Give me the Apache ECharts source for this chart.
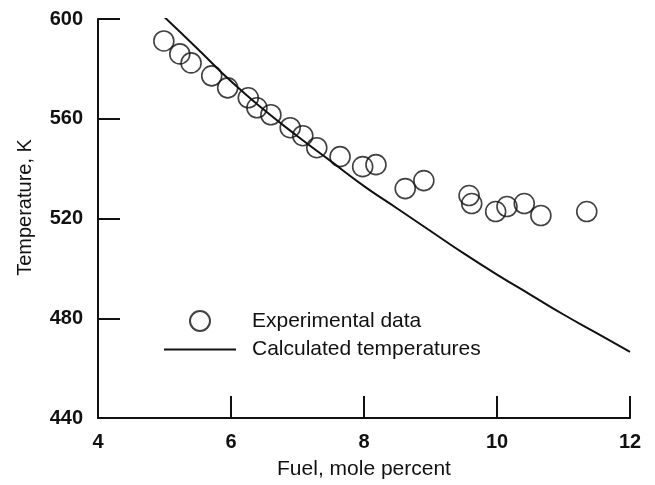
<!DOCTYPE html>
<html>
<head>
<meta charset="utf-8">
<script src="https://cdn.jsdelivr.net/npm/echarts@6/dist/echarts.min.js"></script>
<style>
  html, body { margin: 0; padding: 0; background: #fff; }
  #chart { width: 655px; height: 485px; }
</style>
</head>
<body>
<div id="chart"></div>
<script>
// experimental points (fuel mole %, temperature K)
const expFuel = [4.99, 5.23, 5.40, 5.71, 5.95, 6.26, 6.39, 6.60, 6.89, 7.08, 7.29, 7.64, 7.98, 8.18, 8.62, 8.90, 9.58, 9.62, 9.98, 10.15, 10.41, 10.66, 11.35];
const expTemp = [591.2, 586.0, 582.4, 577.2, 572.4, 568.4, 564.4, 561.6, 556.4, 553.2, 548.4, 544.8, 540.8, 541.6, 532.0, 535.2, 529.2, 526.0, 522.8, 524.8, 526.0, 521.2, 522.8];

// calculated curve
const calcFuel = [4.95, 5.5, 6.0, 6.5, 7.0, 7.5, 8.0, 8.5, 9.0, 9.5, 10.0, 10.5, 11.0, 11.5, 12.0];
const calcTemp = [602, 588, 575, 563.5, 553, 543, 533, 524, 515, 506, 497.5, 489.5, 481.5, 474, 466.5];

const xTicks = [4, 6, 8, 10, 12];
const yTicks = [440, 480, 520, 560, 600];

const ink = '#111';
const font = 'Liberation Sans, Arial, Helvetica, sans-serif';

const chart = echarts.init(document.getElementById('chart'));
chart.setOption({
  animation: false,
  backgroundColor: '#fff',
  grid: { left: 98, right: 25, top: 19, bottom: 65 },
  legend: {
    left: 158, top: 305,
    orient: 'vertical',
    itemWidth: 72, itemHeight: 20, itemGap: 7,
    textStyle: { color: ink, fontSize: 21, fontFamily: font, padding: [0, 0, 0, 11] },
    data: [
      { name: 'Experimental data' },
      { name: 'Calculated temperatures', itemStyle: { opacity: 0 } },
    ],
  },
  xAxis: {
    type: 'value',
    min: xTicks[0], max: xTicks[xTicks.length - 1], interval: 2,
    name: 'Fuel, mole percent',
    nameLocation: 'middle', nameGap: 41,
    nameTextStyle: { color: ink, fontSize: 21, fontFamily: font },
    axisLine: { lineStyle: { color: ink, width: 2 } },
    axisTick: { inside: true, length: 22, lineStyle: { color: ink, width: 2 } },
    axisLabel: { color: ink, fontSize: 20, fontWeight: 'bold', fontFamily: font, margin: 14 },
    splitLine: { show: false },
  },
  yAxis: {
    type: 'value',
    min: yTicks[0], max: yTicks[yTicks.length - 1], interval: 40,
    name: 'Temperature, K',
    nameLocation: 'middle', nameGap: 63, nameRotate: 90,
    nameTextStyle: { color: ink, fontSize: 20, fontFamily: font, padding: [0, 0, 0, 22] },
    axisLine: { show: true, lineStyle: { color: ink, width: 2 } },
    axisTick: { show: true, inside: true, length: 22, lineStyle: { color: ink, width: 2 } },
    axisLabel: { color: ink, fontSize: 20, fontWeight: 'bold', fontFamily: font, margin: 15 },
    splitLine: { show: false },
  },
  series: [
    {
      name: 'Experimental data',
      type: 'scatter',
      symbol: 'circle',
      symbolSize: 20,
      itemStyle: { color: 'rgba(255,255,255,0)', borderColor: ink, borderWidth: 1.6 },
      data: expFuel.map((x, i) => [x, expTemp[i]]),
    },
    {
      name: 'Calculated temperatures',
      type: 'line',
      smooth: true,
      symbol: 'none',
      lineStyle: { color: ink, width: 2 },
      itemStyle: { color: ink },
      data: calcFuel.map((x, i) => [x, calcTemp[i]]),
    },
  ],
});
</script>
</body>
</html>
